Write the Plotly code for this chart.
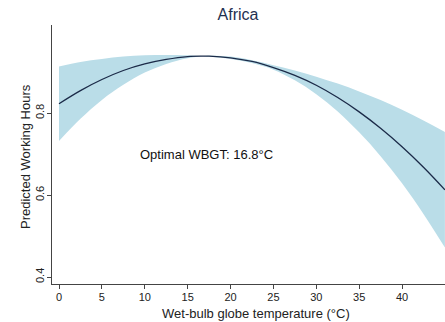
import plotly.graph_objects as go

# Data
wbgt = [0, 2.5, 5, 7.5, 10, 12.5, 15, 16.8, 17.5, 20, 22.5, 25, 27.5, 30, 32.5, 35, 37.5, 40, 42.5, 45]
predicted = [0.823, 0.855, 0.882, 0.904, 0.920, 0.931, 0.938, 0.939, 0.939, 0.935, 0.926, 0.911, 0.892, 0.868, 0.838, 0.803, 0.763, 0.718, 0.668, 0.613]
upper_ci = [0.914, 0.925, 0.932, 0.938, 0.941, 0.942, 0.941, 0.939, 0.940, 0.938, 0.929, 0.917, 0.904, 0.889, 0.872, 0.853, 0.832, 0.808, 0.782, 0.754]
lower_ci = [0.732, 0.786, 0.832, 0.869, 0.899, 0.920, 0.934, 0.939, 0.938, 0.932, 0.922, 0.906, 0.880, 0.846, 0.804, 0.753, 0.695, 0.629, 0.554, 0.472]
x_ticks = [0, 5, 10, 15, 20, 25, 30, 35, 40]
y_ticks = [0.4, 0.6, 0.8]
y_tick_text = ["0.4", "0.6", "0.8"]
optimal_label = "Optimal WBGT: 16.8°C"

FONT = "Liberation Sans, Arial, sans-serif"
BAND = "#badde8"
LINE = "#1b2a48"
W, H = 445, 322
L, R, T, B = 52, 0, 25, 38
PW, PH = W - L - R, H - T - B


def px_x(px):
    return (px - L) / PW


def px_y(py):
    return (H - B - py) / PH


fig = go.Figure()
fig.add_trace(go.Scatter(x=wbgt, y=lower_ci, mode="lines", line=dict(width=0, color=BAND, shape="spline"),
                         hoverinfo="skip", showlegend=False))
fig.add_trace(go.Scatter(x=wbgt, y=upper_ci, mode="lines", line=dict(width=0, color=BAND, shape="spline"),
                         fill="tonexty", fillcolor=BAND, hoverinfo="skip", showlegend=False))
fig.add_trace(go.Scatter(x=wbgt, y=predicted, mode="lines", line=dict(width=1.3, color=LINE, shape="spline"),
                         showlegend=False))

fig.add_annotation(x=9.2, y=0.698, xref="x", yref="y", text=optimal_label, showarrow=False,
                   xanchor="left", yanchor="middle", font=dict(family=FONT, size=13, color="#111111"))
# axis titles
fig.add_annotation(x=px_x(25), y=px_y(157), xref="paper", yref="paper", text="Predicted Working Hours",
                   textangle=-90, showarrow=False, xanchor="center", yanchor="middle",
                   font=dict(family=FONT, size=13, color="#222222"))
fig.add_annotation(x=px_x(256), y=px_y(313), xref="paper", yref="paper", text="Wet-bulb globe temperature (°C)",
                   showarrow=False, xanchor="center", yanchor="middle",
                   font=dict(family=FONT, size=13, color="#222222"))

fig.update_layout(
    width=W, height=H,
    margin=dict(l=L, r=R, t=T, b=B),
    paper_bgcolor="white", plot_bgcolor="white",
    font=dict(family=FONT, color="#222222"),
    title=dict(text="Africa", x=238 / W, xanchor="center", y=1 - 14 / H, yanchor="middle",
               font=dict(family=FONT, size=16, color="#1f3050")),
    showlegend=False,
)
fig.update_xaxes(range=[-0.816, 45.01], tickvals=x_ticks, ticks="outside", ticklen=4, tickcolor="#444444",
                 showline=True, linecolor="#444444", linewidth=1, showgrid=False, zeroline=False,
                 tickfont=dict(family=FONT, size=11, color="#222222"), ticklabelstandoff=-1)
fig.update_yaxes(range=[0.383, 1.015], tickvals=y_ticks, ticktext=y_tick_text, tickangle=-90,
                 ticks="outside", ticklen=4, tickcolor="#444444",
                 showline=True, linecolor="#444444", linewidth=1, showgrid=False, zeroline=False,
                 tickfont=dict(family=FONT, size=11, color="#222222"), ticklabelstandoff=-1)

fig.write_html("out.html")
